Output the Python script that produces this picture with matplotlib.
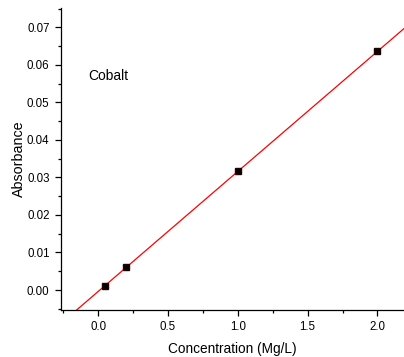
import numpy as np
import matplotlib
matplotlib.use("Agg")
import matplotlib.pyplot as plt
from matplotlib.ticker import MultipleLocator

plt.rcParams['font.family'] = ['Liberation Sans', 'DejaVu Sans']

# calibration data
conc = [0.05, 0.2, 1.0, 2.0]
absorb = [0.0012, 0.0060, 0.0316, 0.0636]

# linear fit through the standards
slope, icpt = np.polyfit(conc, absorb, 1)

fig = plt.figure(figsize=(4.04, 3.57), dpi=100)
ax = fig.add_axes([0.152, 0.133, 0.848, 0.845])

xs = np.array([-0.3, 2.3])
ax.plot(xs, slope * xs + icpt, color='red', lw=0.9, zorder=2)
ax.plot(conc, absorb, 's', color='black', mec='#200000', ms=5, zorder=3)

ax.set_xlim(-0.263, 2.19)
ax.set_ylim(-0.0052, 0.0752)

ax.xaxis.set_major_locator(MultipleLocator(0.5))
ax.xaxis.set_minor_locator(MultipleLocator(0.25))
ax.yaxis.set_major_locator(MultipleLocator(0.01))
ax.yaxis.set_minor_locator(MultipleLocator(0.005))
ax.xaxis.set_major_formatter(plt.FormatStrFormatter('%.1f'))
ax.yaxis.set_major_formatter(plt.FormatStrFormatter('%.2f'))

for s in ['top', 'right']:
    ax.spines[s].set_visible(False)
for s in ['left', 'bottom']:
    ax.spines[s].set_linewidth(0.9)
ax.tick_params(which='major', direction='out', length=4.5, width=0.9, labelsize=8.3, pad=4)
ax.tick_params(which='minor', direction='out', length=2.5, width=0.9)

ax.set_xlabel('Concentration (Mg/L)', fontsize=9.8, labelpad=6)
ax.set_ylabel('Absorbance', fontsize=10.3, labelpad=1)

ax.text(-0.07, 0.0570, 'Cobalt', fontsize=10, va='center')

fig.savefig('out.png', dpi=100)
